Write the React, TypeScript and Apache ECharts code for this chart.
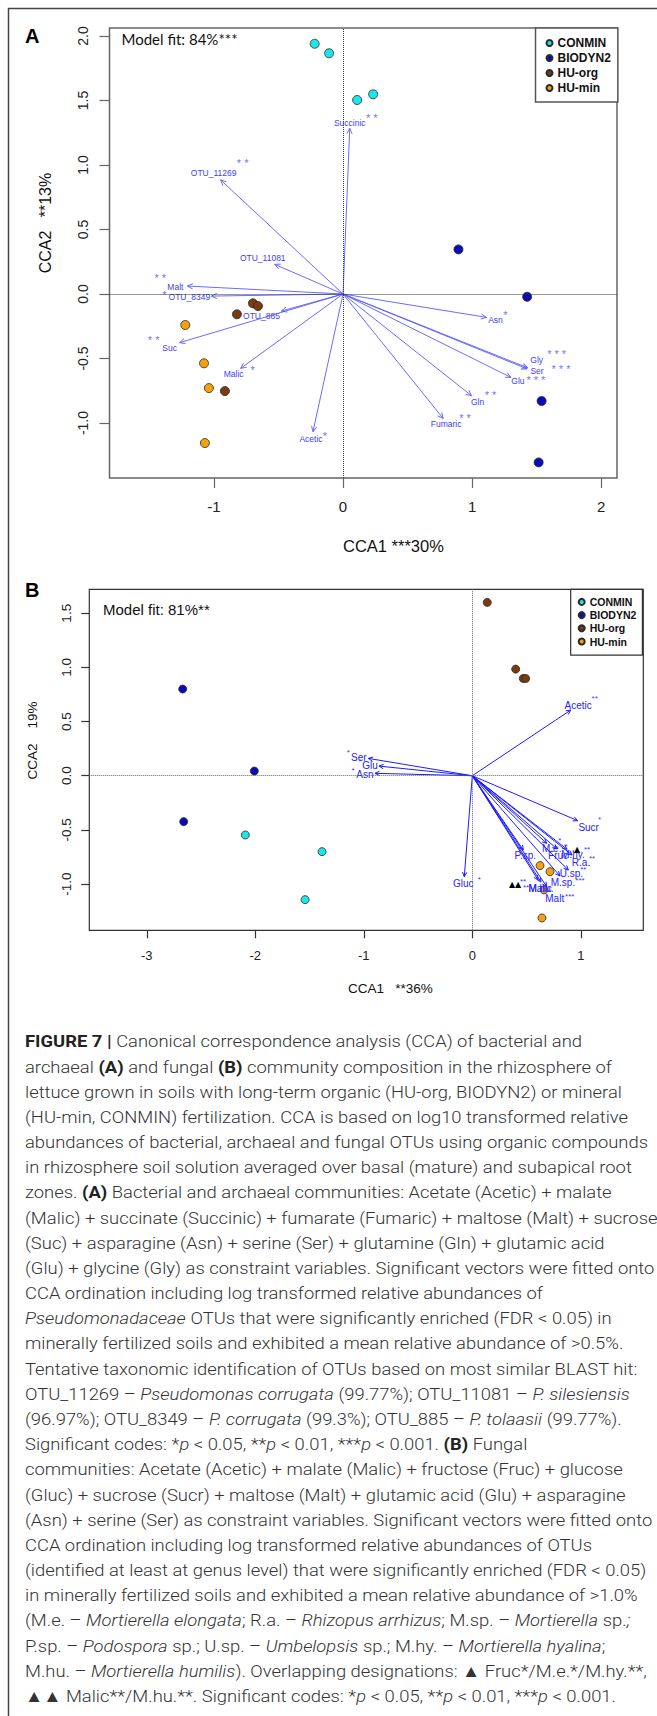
import React, { useEffect, useRef } from "react";
import * as echarts from "echarts";

// ---------- data ----------
const groups = ["CONMIN", "BIODYN2", "HU-org", "HU-min"];
const groupColors = ["#1ee6e8", "#0a0ab8", "#7b3a0f", "#f5a00c"];

// Panel A site scores (CCA1, CCA2)
const aConmin = [[-0.22, 1.94], [-0.108, 1.866], [0.109, 1.504], [0.233, 1.548]];
const aBiodyn = [[0.894, 0.346], [1.426, -0.021], [1.538, -0.829], [1.515, -1.305]];
const aHuOrg = [[-0.698, -0.072], [-0.659, -0.093], [-0.822, -0.157], [-0.915, -0.752]];
const aHuMin = [[-1.222, -0.24], [-1.077, -0.537], [-1.039, -0.729], [-1.07, -1.155]];

// Panel A vectors: name, CCA1, CCA2, significance
const aVecNames = ["Succinic", "OTU_11269", "OTU_11081", "Malt", "OTU_8349", "OTU_885", "Suc", "Malic", "Acetic", "Asn", "Gly", "Ser", "Glu", "Gln", "Fumaric"];
const aVecX = [0.052, -0.948, -0.529, -1.206, -1.02, -0.477, -1.266, -0.793, -0.233, 1.111, 1.43, 1.425, 1.3, 0.995, 0.775];
const aVecY = [1.284, 0.884, 0.23, 0.062, -0.016, -0.132, -0.377, -0.576, -1.067, -0.181, -0.572, -0.58, -0.646, -0.788, -0.964];
const aVecSig = ["**", "**", "", "**", "*", "", "**", "*", "*", "*", "***", "***", "***", "**", "**"];

// Panel B site scores
const bConmin = [[-2.092, -0.547], [-1.385, -0.701], [-1.541, -1.144]];
const bBiodyn = [[-2.669, 0.8], [-2.009, 0.043], [-2.66, -0.424]];
const bHuOrg = [[0.138, 1.6], [0.4, 0.984], [0.47, 0.898], [0.492, 0.898]];
const bHuMin = [[0.624, -0.83], [0.716, -0.886], [0.661, -1.054], [0.642, -1.313]];

// Panel B vectors
const bVecNames = ["Acetic", "Ser", "Glu", "Asn", "Sucr", "Gluc", "M.e.", "Fruc", "M.hy.", "R.a.", "U.sp.", "M.sp.", "P.sp.", "Malic", "M.hu.", "Malt"];
const bVecX = [0.907, -0.958, -0.86, -0.897, 0.971, -0.074, 0.686, 0.781, 0.873, 0.919, 0.885, 0.808, 0.47, 0.606, 0.633, 0.686];
const bVecY = [0.606, 0.16, 0.089, 0.022, -0.415, -0.932, -0.624, -0.676, -0.679, -0.732, -0.87, -0.925, -0.685, -0.962, -0.981, -1.024];
const bVecSig = ["**", "*", "*", "*", "*", "*", "*", "*", "**", "**", "**", "***", "", "**", "**", "***"];

// Ticks
const aXTicks = [-1, 0, 1, 2];
const aYTicks = [-1, -0.5, 0, 0.5, 1, 1.5, 2];
const bXTicks = [-3, -2, -1, 0, 1];
const bYTicks = [-1, -0.5, 0, 0.5, 1, 1.5];

// Caption lines ({b|..} bold, {i|..} italic)
const captionLines = [
  "{b|FIGURE 7 |} Canonical correspondence analysis (CCA) of bacterial and",
  "archaeal {b|(A)} and fungal {b|(B)} community composition in the rhizosphere of",
  "lettuce grown in soils with long-term organic (HU-org, BIODYN2) or mineral",
  "(HU-min, CONMIN) fertilization. CCA is based on log10 transformed relative",
  "abundances of bacterial, archaeal and fungal OTUs using organic compounds",
  "in rhizosphere soil solution averaged over basal (mature) and subapical root",
  "zones. {b|(A)} Bacterial and archaeal communities: Acetate (Acetic) + malate",
  "(Malic) + succinate (Succinic) + fumarate (Fumaric) + maltose (Malt) + sucrose",
  "(Suc) + asparagine (Asn) + serine (Ser) + glutamine (Gln) + glutamic acid",
  "(Glu) + glycine (Gly) as constraint variables. Significant vectors were fitted onto",
  "CCA ordination including log transformed relative abundances of",
  "{i|Pseudomonadaceae} OTUs that were significantly enriched (FDR < 0.05) in",
  "minerally fertilized soils and exhibited a mean relative abundance of >0.5%.",
  "Tentative taxonomic identification of OTUs based on most similar BLAST hit:",
  "OTU_11269 – {i|Pseudomonas corrugata} (99.77%); OTU_11081 – {i|P. silesiensis}",
  "(96.97%); OTU_8349 – {i|P. corrugata} (99.3%); OTU_885 – {i|P. tolaasii} (99.77%).",
  "Significant codes: *{i|p} < 0.05, **{i|p} < 0.01, ***{i|p} < 0.001. {b|(B)} Fungal",
  "communities: Acetate (Acetic) + malate (Malic) + fructose (Fruc) + glucose",
  "(Gluc) + sucrose (Sucr) + maltose (Malt) + glutamic acid (Glu) + asparagine",
  "(Asn) + serine (Ser) as constraint variables. Significant vectors were fitted onto",
  "CCA ordination including log transformed relative abundances of OTUs",
  "(identified at least at genus level) that were significantly enriched (FDR < 0.05)",
  "in minerally fertilized soils and exhibited a mean relative abundance of >1.0%",
  "(M.e. – {i|Mortierella elongata}; R.a. – {i|Rhizopus arrhizus}; M.sp. – {i|Mortierella} sp.{i|;}",
  "P.sp. – {i|Podospora} sp.; U.sp. – {i|Umbelopsis} sp.; M.hy. – {i|Mortierella hyalina};",
  "M.hu. – {i|Mortierella humilis}). Overlapping designations: ▲ Fruc*/M.e.*/M.hy.**,",
  "▲▲ Malic**/M.hu.**. Significant codes: *{i|p} < 0.05, **{i|p} < 0.01, ***{i|p} < 0.001.",
];

// ---------- layout (pixel offsets of labels from arrow tips) ----------
type Lay = { l: number[]; s?: number[]; m?: [string, number, number] };
const aLayout: Record<string, Lay> = {
  Succinic: { l: [0, -5], s: [22, -10] },
  OTU_11269: { l: [-7, -6.5], s: [22, -17] },
  OTU_11081: { l: [-12, -6] },
  Malt: { l: [-12, 1], s: [-27, -8] },
  OTU_8349: { l: [-22, 0.5], s: [-47, -1] },
  OTU_885: { l: [-20, 5] },
  Suc: { l: [-10, 5], s: [-26, -3] },
  Malic: { l: [-7, 6], s: [12, 2] },
  Acetic: { l: [-2, 7], s: [12, 4] },
  Asn: { l: [9, 3], s: [19, -2] },
  Gly: { l: [9, -8], s: [29, -14] },
  Ser: { l: [10, 2], s: [34, 0] },
  Glu: { l: [7, 4], s: [25, 3] },
  Gln: { l: [6, 6], s: [19, -1] },
  Fumaric: { l: [3, 6], s: [22, 0] },
};
const bLayout: Record<string, Lay> = {
  Acetic: { l: [7.5, -5], s: [24, -12] },
  Ser: { l: [-9.5, -1], s: [-20, -6] },
  Glu: { l: [-9, -1], s: [-19, -5] },
  Asn: { l: [-10, 1], s: [-22, -3] },
  Sucr: { l: [11, 7], s: [22, -1] },
  Gluc: { l: [-1, 7], s: [15, 3] },
  "M.e.": { l: [5, 5], s: [13, -3] },
  Fruc: { l: [1, 7], s: [9, -2] },
  "M.hy.": { l: [6, 5], s: [20, 0], m: ["▲", 10, 0] },
  "R.a.": { l: [9, 7], s: [20, 3] },
  "U.sp.": { l: [3, 4], s: [15, 0] },
  "M.sp.": { l: [3, 7], s: [20, 5] },
  "P.sp.": { l: [2, 6] },
  Malic: { l: [2, 9], s: [-12, 8], m: ["▲▲", -23, 5] },
  "M.hu.": { l: [0, 7], s: [-18, 0] },
  Malt: { l: [8, 12], s: [23, 10] },
};

const FONT = '"Liberation Sans", Arial, Helvetica, sans-serif';
const CAP_FONT = 'Roboto, "Liberation Sans", sans-serif';

function vectorRenderer(names: string[], sigs: string[], layout: Record<string, Lay>, st: any) {
  return (params: any, api: any) => {
    const i = params.dataIndex;
    const tip = api.coord([api.value(0), api.value(1)]);
    const o = api.coord([0, 0]);
    const ang = Math.atan2(tip[1] - o[1], tip[0] - o[0]);
    const hl = st.head;
    const ha = Math.PI / 7;
    const p1 = [tip[0] - hl * Math.cos(ang - ha), tip[1] - hl * Math.sin(ang - ha)];
    const p2 = [tip[0] - hl * Math.cos(ang + ha), tip[1] - hl * Math.sin(ang + ha)];
    const L = layout[names[i]] || { l: [0, 0] };
    const children: any[] = [
      { type: "line", shape: { x1: o[0], y1: o[1], x2: tip[0], y2: tip[1] }, style: { stroke: st.line, lineWidth: st.lw } },
      { type: "polyline", shape: { points: [p1, tip, p2] }, style: { stroke: st.line, lineWidth: st.lw, fill: "none" } },
      {
        type: "text",
        x: tip[0] + L.l[0],
        y: tip[1] + L.l[1],
        style: {
          text: names[i], fill: st.text, fontSize: st.fs, fontFamily: FONT, fontWeight: st.fw,
          align: "center", verticalAlign: "middle", textAlign: "center", textVerticalAlign: "middle",
        },
      },
    ];
    if (sigs[i] && L.s) {
      children.push({
        type: "text",
        x: tip[0] + L.s[0],
        y: tip[1] + L.s[1],
        style: {
          text: st.spaced ? sigs[i].split("").join(" ") : sigs[i], fill: st.star, fontSize: st.sfs, fontFamily: FONT,
          align: "center", verticalAlign: "middle", textAlign: "center", textVerticalAlign: "middle",
        },
      });
    }
    if (L.m) {
      children.push({
        type: "text",
        x: tip[0] + L.m[1],
        y: tip[1] + L.m[2],
        style: {
          text: L.m[0], fill: "#000", fontSize: 8, fontFamily: '"DejaVu Sans", sans-serif',
          align: "center", verticalAlign: "middle", textAlign: "center", textVerticalAlign: "middle",
        },
      });
    }
    return { type: "group", children };
  };
}

function axes(gi: number, xr: number[], yr: number[], xt: number[], yt: number[], c: any) {
  const x = {
    type: "value", gridIndex: gi, min: xr[0], max: xr[1],
    axisLine: { show: false, onZero: false }, splitLine: { show: false },
    axisTick: { show: true, inside: false, length: c.tick, customValues: xt, lineStyle: { color: c.axis, width: 1.2 } },
    axisLabel: { customValues: xt, fontSize: c.xfs, fontFamily: FONT, color: "#222", margin: c.xm, formatter: (v: number) => String(v) },
  };
  const y = {
    type: "value", gridIndex: gi, min: yr[0], max: yr[1],
    axisLine: { show: false, onZero: false }, splitLine: { show: false },
    axisTick: { show: true, inside: false, length: c.tick, customValues: yt, lineStyle: { color: c.axis, width: 1.2 } },
    axisLabel: {
      customValues: yt, rotate: 90, fontSize: c.yfs, fontFamily: FONT, color: "#222", margin: c.ym,
      align: "center", verticalAlign: "bottom",
      formatter: (v: number) => v.toFixed(1),
    },
  };
  return { x, y };
}

function scatterSeries(gi: number, sets: number[][][], size: number) {
  return sets.map((d, k) => ({
    type: "scatter", name: groups[k], xAxisIndex: gi, yAxisIndex: gi, data: d, symbolSize: size, z: 3,
    itemStyle: { color: groupColors[k], borderColor: "#2a2a2a", borderWidth: 0.8, opacity: 1 },
    emphasis: { disabled: true },
  }));
}

export default function App() {
  const ref = useRef<HTMLDivElement>(null);
  useEffect(() => {
    document.body.style.margin = "0";
    if (!ref.current) return;
    const chart = echarts.init(ref.current, null, { renderer: "svg" });

    // caption scale by measuring a reference line
    const ctx = document.createElement("canvas").getContext("2d")!;
    ctx.font = `300 17px ${CAP_FONT}`;
    const w = ctx.measureText(captionLines[4]).width || 624;
    const capScale = 623.7 / w;

    const A = axes(0, [-1.809, 2.122], [-1.426, 2.062], aXTicks, aYTicks, { tick: 10, axis: "#666", xfs: 15, yfs: 14, xm: 21, ym: 20 });
    const B = axes(1, [-3.53, 1.576], [-1.427, 1.721], bXTicks, bYTicks, { tick: 8, axis: "#333", xfs: 13, yfs: 13.5, xm: 19, ym: 16 });

    const aVecData = aVecX.map((x, i) => [x, aVecY[i]]);
    const bVecData = bVecX.map((x, i) => [x, bVecY[i]]);

    const aScatter = scatterSeries(0, [aConmin, aBiodyn, aHuOrg, aHuMin], 9);
    const bScatter = scatterSeries(1, [bConmin, bBiodyn, bHuOrg, bHuMin], 8);

    const refLines = (gi: number, color: string) => ({
      type: "scatter", xAxisIndex: gi, yAxisIndex: gi, data: [], silent: true, z: 1,
      markLine: {
        silent: true, symbol: ["none", "none"], label: { show: false },
        lineStyle: { type: "dotted", color, width: 1 }, emphasis: { disabled: true },
        data: [{ xAxis: 0 }, { yAxis: 0 }],
      },
    });

    const captionGraphics = captionLines.map((line, i) => ({
      type: "text",
      x: 25,
      y: 1041.7 + i * 25.17,
      scaleX: capScale,
      style: {
        text: line,
        fill: "#333",
        fontSize: 17,
        fontFamily: CAP_FONT,
        fontWeight: 300,
        align: "left", verticalAlign: "middle", textAlign: "left", textVerticalAlign: "middle",
        rich: {
          b: { fontSize: 17, fontFamily: CAP_FONT, fontWeight: "bold", fill: "#222" },
          i: { fontSize: 17, fontFamily: CAP_FONT, fontWeight: 300, fontStyle: "italic", fill: "#333" },
        },
      },
    }));

    const txt = (text: string, x: number, y: number, s: any, extra: any = {}) => ({
      type: "text", x, y, ...extra,
      style: { text, align: "left", verticalAlign: "middle", textAlign: "left", textVerticalAlign: "middle", fill: "#111", fontFamily: FONT, ...s },
    });

    const legendBase = {
      orient: "vertical", icon: "circle", selectedMode: false, itemWidth: 6, itemHeight: 6,
      backgroundColor: "#fff", data: groups,
    };

    chart.setOption({
      animation: false,
      backgroundColor: "#fff",
      grid: [
        { left: 109.5, top: 28, width: 507.5, height: 450, show: true, borderColor: "#666", borderWidth: 1.5, backgroundColor: "transparent" },
        { left: 89.3, top: 589.3, width: 554, height: 341, show: true, borderColor: "#333", borderWidth: 1.2, backgroundColor: "transparent" },
      ],
      xAxis: [A.x, B.x],
      yAxis: [A.y, B.y],
      legend: [
        {
          ...legendBase, left: 535.5, top: 28, padding: [8, 7, 7, 10], itemGap: 1,
          borderColor: "#555", borderWidth: 1.5,
          textStyle: { fontSize: 12, fontWeight: "bold", fontFamily: FONT, color: "#111", lineHeight: 14 },
        },
        {
          ...legendBase, left: 570.7, top: 589.3, padding: [6, 6, 7, 7], itemGap: 0,
          borderColor: "#333", borderWidth: 1.2,
          textStyle: { fontSize: 10.5, fontWeight: "bold", fontFamily: FONT, color: "#111", lineHeight: 13.2 },
        },
      ],
      series: [
        refLines(0, "#333"),
        refLines(1, "#666"),
        ...aScatter,
        ...bScatter,
        {
          type: "custom", name: "vectorsA", xAxisIndex: 0, yAxisIndex: 0, data: aVecData, z: 4, clip: false,
          renderItem: vectorRenderer(aVecNames, aVecSig, aLayout, { head: 6, line: "#5a5aff", lw: 0.9, text: "#4040f0", fs: 8.5, fw: "normal", star: "#7474ff", sfs: 11, spaced: true }),
        },
        {
          type: "custom", name: "vectorsB", xAxisIndex: 1, yAxisIndex: 1, data: bVecData, z: 4, clip: false,
          renderItem: vectorRenderer(bVecNames, bVecSig, bLayout, { head: 5, line: "#1c1cff", lw: 1, text: "#2424ff", fs: 10, fw: "normal", star: "#3a3aff", sfs: 8, spaced: false }),
        },
      ],
      graphic: [
        { type: "rect", shape: { x: 8.5, y: 8.5, width: 720, height: 1800 }, style: { fill: "none", stroke: "#444", lineWidth: 1.5 }, z: 0 },
        txt("A", 25, 36, { fontSize: 20, fontWeight: "bold", fill: "#000" }),
        txt("B", 25, 590, { fontSize: 20, fontWeight: "bold", fill: "#000" }),
        txt("Model fit: 84%***", 121.5, 39, { fontSize: 15, fontFamily: 'Lato, "Open Sans", sans-serif', fill: "#111" }),
        txt("Model fit: 81%**", 103, 609.5, { fontSize: 15, fill: "#111" }),
        txt("CCA1 ***30%", 343, 546, { fontSize: 16.5, fill: "#111" }),
        txt("CCA2\u00a0\u00a0\u00a0**13%", 45, 223, { fontSize: 16, fill: "#111", align: "center", textAlign: "center" }, { rotation: Math.PI / 2 }),
        txt("CCA1\u00a0\u00a0\u00a0**36%", 348, 988.5, { fontSize: 13.5, fill: "#111" }),
        txt("CCA2\u00a0\u00a0\u00a0\u00a019%", 32.5, 740.5, { fontSize: 13.5, fill: "#111", align: "center", textAlign: "center" }, { rotation: Math.PI / 2 }),
        ...captionGraphics,
      ],
    });
    return () => chart.dispose();
  }, []);
  return <div ref={ref} style={{ width: 657, height: 1716 }} />;
}
